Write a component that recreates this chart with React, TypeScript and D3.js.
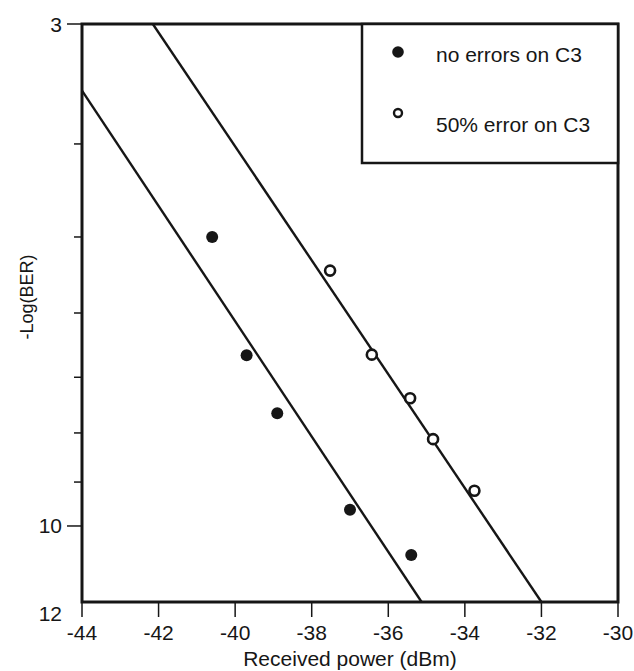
import React from "react";
import * as d3 from "d3";

const xTicks = [-44, -42, -40, -38, -36, -34, -32, -30];
const yTicks = [3, 4, 5, 6, 7, 8, 9, 10, 12];
const yLabeled = [3, 10, 12];

const noErrX = [-40.6, -39.7, -38.9, -37.0, -35.4];
const noErrY = [5.0, 6.64, 7.63, 9.62, 10.72];
const halfErrX = [-37.52, -36.43, -35.43, -34.83, -33.75];
const halfErrY = [5.42, 6.63, 7.36, 8.12, 9.19];

const fitNoErrX = [-44, -35.13];
const fitNoErrY = [3.52, 12];
const fitHalfErrX = [-42.15, -32];
const fitHalfErrY = [3, 12];

const legendLabels = ["no errors on C3", "50% error on C3"];

const W = 634;
const H = 671;
const FONT = "'Liberation Sans', Arial, Helvetica, sans-serif";
const INK = "#161616";

export default function App() {
  const x = d3.scaleLinear().domain([-44, -30]).range([82, 618]);
  const y = d3.scaleLog().domain([3, 12]).range([24, 602]);
  const line = d3
    .line<[number, number]>()
    .x((d) => x(d[0]))
    .y((d) => y(d[1]));
  const fitA: [number, number][] = fitNoErrX.map((v, i) => [v, fitNoErrY[i]]);
  const fitB: [number, number][] = fitHalfErrX.map((v, i) => [v, fitHalfErrY[i]]);
  const [x0, x1] = x.range();
  const [y0, y1] = y.range();

  return (
    <svg
      width={W}
      height={H}
      style={{ position: "absolute", left: 0, top: 0, background: "#fff" }}
      fontFamily={FONT}
    >
      <rect x={0} y={0} width={W} height={H} fill="#fff" />
      <defs>
        <clipPath id="plot">
          <rect x={x0} y={y0} width={x1 - x0} height={y1 - y0} />
        </clipPath>
      </defs>
      <g clipPath="url(#plot)">
        <path d={line(fitA) || ""} fill="none" stroke={INK} strokeWidth={2.4} />
        <path d={line(fitB) || ""} fill="none" stroke={INK} strokeWidth={2.4} />
      </g>
      <rect
        x={x0}
        y={y0}
        width={x1 - x0}
        height={y1 - y0}
        fill="none"
        stroke={INK}
        strokeWidth={3}
      />
      {yTicks.map((t) => {
        const lab = yLabeled.includes(t);
        if (t === 12) return null;
        return (
          <line
            key={"yt" + t}
            x1={x0 - (lab ? 15 : 8)}
            x2={x0}
            y1={y(t)}
            y2={y(t)}
            stroke={INK}
            strokeWidth={1.5}
          />
        );
      })}
      {yLabeled.map((t) => (
        <text
          key={"yl" + t}
          x={62}
          y={t === 12 ? y(t) + 18.5 : y(t) + 7.5}
          textAnchor="end"
          fontSize={21}
          fill={INK}
        >
          {t}
        </text>
      ))}
      {xTicks.map((t) => (
        <g key={"xt" + t}>
          <line x1={x(t)} x2={x(t)} y1={y1} y2={y1 + 15} stroke={INK} strokeWidth={1.5} />
          <text x={x(t)} y={640} textAnchor="middle" fontSize={21} fill={INK}>
            {t}
          </text>
        </g>
      ))}
      <text x={(x0 + x1) / 2} y={666} textAnchor="middle" fontSize={21} fill={INK}>
        Received power (dBm)
      </text>
      <text
        transform={`translate(33,${297}) rotate(-90)`}
        textAnchor="middle"
        fontSize={18}
        fill={INK}
      >
        -Log(BER)
      </text>
      {noErrX.map((v, i) => (
        <circle key={"a" + i} cx={x(v)} cy={y(noErrY[i])} r={6} fill={INK} />
      ))}
      {halfErrX.map((v, i) => (
        <circle
          key={"b" + i}
          cx={x(v)}
          cy={y(halfErrY[i])}
          r={5}
          fill="#fff"
          stroke={INK}
          strokeWidth={2.6}
        />
      ))}
      <rect x={362} y={y0} width={x1 - 362} height={163 - y0} fill="#fff" stroke={INK} strokeWidth={2.5} />
      <circle cx={398} cy={52} r={5.8} fill={INK} />
      <text x={436} y={62} fontSize={21} fill={INK}>
        {legendLabels[0]}
      </text>
      <circle cx={398} cy={113} r={4} fill="#fff" stroke={INK} strokeWidth={2.4} />
      <text x={436} y={132} fontSize={21} fill={INK}>
        {legendLabels[1]}
      </text>
    </svg>
  );
}
